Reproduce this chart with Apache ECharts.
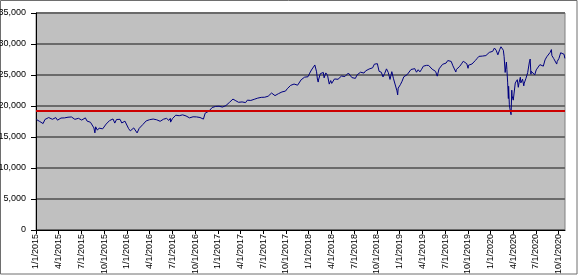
<!DOCTYPE html>
<html>
<head>
<meta charset="utf-8">
<script src="https://cdn.jsdelivr.net/npm/echarts@6/dist/echarts.min.js"></script>
<style>
html,body{margin:0;padding:0;background:#fff;}
#chart{width:580px;height:276px;}
</style>
</head>
<body>
<div id="chart"></div>
<script>
// ---- DATA (Dow Jones closes) ----
const dow2015 = [['01-02',17833],['01-09',17737],['01-16',17511],['01-23',17672],['01-30',17165],['02-06',17824],['02-13',18019],['02-20',18140],['02-27',18133],['03-06',17856],['03-13',17749],['03-20',18128],['03-27',17713],['04-02',17763],['04-10',18057],['04-17',17826],['04-24',18080],['05-01',18024],['05-08',18191],['05-15',18272],['05-22',18232],['05-29',18010],['06-05',17849],['06-12',17898],['06-19',18015],['06-26',17947],['07-02',17730],['07-08',17515],['07-10',17760],['07-17',18086],['07-24',17568],['07-31',17690],['08-07',17373],['08-14',17477],['08-21',16460],['08-25',15666],['08-28',16643],['09-04',16102],['09-11',16433],['09-18',16384],['09-25',16315],['09-28',16001],['10-02',16472],['10-09',17084],['10-16',17215],['10-23',17647],['10-30',17664],['11-06',17910],['11-13',17245],['11-20',17824],['11-27',17798],['12-04',17848],['12-11',17265],['12-18',17128],['12-24',17553],['12-31',17425]];
const dow2016 = [['01-08',16346],['01-15',15988],['01-20',15766],['01-22',16093],['01-29',16466],['02-05',16204],['02-11',15660],['02-12',15973],['02-19',16392],['02-26',16639],['03-04',17006],['03-11',17213],['03-18',17602],['03-24',17516],['04-01',17792],['04-08',17577],['04-15',17897],['04-20',18096],['04-22',18003],['04-29',17773],['05-06',17740],['05-13',17535],['05-20',17500],['05-27',17873],['06-03',17807],['06-08',18005],['06-10',17865],['06-17',17675],['06-23',18011],['06-24',17400],['06-27',17140],['07-01',17949],['07-08',18147],['07-15',18516],['07-22',18571],['07-29',18432],['08-05',18543],['08-12',18576],['08-19',18553],['08-26',18395],['09-02',18492],['09-09',18085],['09-16',18124],['09-23',18261],['09-30',18308],['10-07',18240],['10-14',18138],['10-21',18146],['10-28',18161],['11-04',17888],['11-11',18848],['11-18',18868],['11-25',19152],['12-02',19171],['12-09',19757],['12-16',19843],['12-23',19934],['12-30',19763]];
const dow2017 = [['01-06',19964],['01-13',19886],['01-20',19827],['01-27',20094],['02-03',20071],['02-10',20269],['02-17',20624],['02-24',20822],['03-01',21115],['03-03',21005],['03-10',20903],['03-17',20915],['03-24',20597],['03-31',20663],['04-07',20656],['04-13',20453],['04-21',20548],['04-28',20941],['05-05',21007],['05-12',20897],['05-17',20607],['05-19',20805],['05-26',21080],['06-02',21206],['06-09',21272],['06-16',21384],['06-23',21395],['06-30',21350],['07-07',21414],['07-14',21638],['07-21',21580],['07-28',21830],['08-04',22092],['08-11',21858],['08-18',21675],['08-25',21814],['09-01',21988],['09-08',21798],['09-15',22268],['09-22',22350],['09-29',22405],['10-06',22774],['10-13',22871],['10-20',23329],['10-27',23434],['11-03',23539],['11-10',23422],['11-17',23358],['11-24',23558],['12-01',24231],['12-08',24329],['12-15',24652],['12-22',24754],['12-29',24719]];
const dow2018 = [['01-05',25296],['01-12',25803],['01-19',26072],['01-26',26617],['02-02',25521],['02-05',24346],['02-08',23860],['02-09',24191],['02-16',25220],['02-23',25310],['02-27',25410],['03-02',24538],['03-09',25336],['03-16',24947],['03-23',23533],['03-29',24103],['04-02',23644],['04-06',23933],['04-13',24360],['04-20',24463],['04-27',24311],['05-04',24263],['05-11',24831],['05-18',24715],['05-25',24753],['06-01',24635],['06-08',25317],['06-15',25090],['06-22',24581],['06-29',24271],['07-06',24456],['07-13',25019],['07-20',25058],['07-27',25451],['08-03',25463],['08-10',25313],['08-17',25669],['08-24',25790],['08-31',25965],['09-07',25917],['09-14',26155],['09-21',26744],['09-28',26458],['10-03',26828],['10-05',26447],['10-10',25599],['10-12',25340],['10-19',25444],['10-26',24689],['10-29',24443],['11-02',25271],['11-09',25989],['11-16',25413],['11-23',24286],['11-30',25538],['12-03',25826],['12-07',24389],['12-14',24101],['12-21',22445],['12-24',21792],['12-26',22878],['12-28',23062]];
const dow2019 = [['01-03',22686],['01-04',23433],['01-11',23996],['01-18',24706],['01-25',24737],['02-01',25064],['02-08',25106],['02-15',25883],['02-22',26031],['03-01',26026],['03-08',25450],['03-15',25849],['03-22',25502],['03-29',25929],['04-05',26425],['04-12',26412],['04-18',26559],['04-26',26543],['05-03',26505],['05-10',25942],['05-17',25764],['05-24',25586],['05-31',24815],['06-07',25984],['06-14',26090],['06-21',26719],['06-28',26600],['07-05',26922],['07-12',27332],['07-19',27154],['07-26',27192],['08-02',26485],['08-09',26287],['08-14',25480],['08-16',25886],['08-23',25629],['08-30',26403],['09-06',26797],['09-13',27220],['09-20',26935],['09-27',26820],['10-02',26079],['10-04',26573],['10-11',26817],['10-18',26770],['10-25',26958],['11-01',27347],['11-08',27681],['11-15',28005],['11-22',27876],['11-29',28051],['12-06',28015],['12-13',28135],['12-20',28455],['12-27',28645],['12-31',28538]];
const dow2020 = [['01-03',28635],['01-10',28823],['01-17',29348],['01-24',28990],['01-31',28256],['02-07',29102],['02-12',29551],['02-14',29398],['02-21',28992],['02-24',27961],['02-28',25409],['03-04',27091],['03-06',25865],['03-09',23851],['03-11',23553],['03-12',21200],['03-13',23186],['03-16',20189],['03-18',19899],['03-20',19174],['03-23',18592],['03-26',22552],['03-27',21637],['04-01',20943],['04-03',21053],['04-09',23719],['04-17',24242],['04-21',23019],['04-24',23775],['04-29',24634],['05-01',23724],['05-08',24331],['05-13',23248],['05-15',23685],['05-22',24465],['05-29',25383],['06-05',27111],['06-08',27572],['06-11',25128],['06-12',25606],['06-19',25871],['06-26',25016],['07-02',25827],['07-10',26075],['07-17',26672],['07-24',26470],['07-31',26428],['08-07',27433],['08-14',27931],['08-21',27930],['08-28',28654],['09-02',29100],['09-04',28133],['09-11',27666],['09-18',27657],['09-23',26763],['09-25',27174],['10-02',27683],['10-09',28587],['10-12',28838],['10-16',28606],['10-23',28336],['10-26',27685]];
const referenceLevel = 19250;
const tickLabels = ['1/1/2015','4/1/2015','7/1/2015','10/1/2015','1/1/2016','4/1/2016','7/1/2016','10/1/2016','1/1/2017','4/1/2017','7/1/2017','10/1/2017','1/1/2018','4/1/2018','7/1/2018','10/1/2018','1/1/2019','4/1/2019','7/1/2019','10/1/2019','1/1/2020','4/1/2020','7/1/2020','10/1/2020'];
const yTicks = [0,5000,10000,15000,20000,25000,30000,35000];

// ---- build series (x = months since 1/1/2015) ----
const years = {2015:dow2015,2016:dow2016,2017:dow2017,2018:dow2018,2019:dow2019,2020:dow2020};
function monthPos(year, md){
  const m = parseInt(md.slice(0,2),10), d = parseInt(md.slice(3),10);
  const dim = new Date(year, m, 0).getDate();
  return (year-2015)*12 + (m-1) + (d-1)/dim;
}
const seriesData = [];
Object.keys(years).forEach(y => {
  years[y].forEach(p => seriesData.push([monthPos(+y, p[0]), p[1]]));
});
const xMax = 69.83;

const chart = echarts.init(document.getElementById('chart'), null, {renderer:'canvas'});
const font = 'Liberation Sans, Arial, sans-serif';
chart.setOption({
  animation: false,
  backgroundColor: '#ffffff',
  grid: {left:36, right:15, top:13, bottom:46, show:true, backgroundColor:'#c0c0c0', borderColor:'#808080', borderWidth:1, outerBoundsMode:'none'},
  xAxis: {
    type:'value', min:0, max:xMax, interval:3,
    axisLine:{show:true, onZero:false, lineStyle:{color:'#000', width:1}},
    axisTick:{show:true, length:4, lineStyle:{color:'#000'}},
    splitLine:{show:false},
    axisLabel:{
      rotate:90, margin:4, fontSize:9, fontFamily:font, color:'#000',
      showMaxLabel:false,
      formatter: v => {
        const k = Math.round(v);
        if (Math.abs(v-k) > 1e-6 || k % 3 !== 0) return '';
        return tickLabels[k/3] || '';
      }
    }
  },
  yAxis: {
    type:'value', min:yTicks[0], max:yTicks[yTicks.length-1], interval:5000,
    axisLine:{show:true, lineStyle:{color:'#000', width:1}},
    axisTick:{show:true, length:5, lineStyle:{color:'#000'}},
    splitLine:{show:true, lineStyle:{color:'#6a6a6a', width:2}},
    axisLabel:{margin:10, fontSize:9, fontFamily:font, color:'#000',
      formatter: v => v.toLocaleString('en-US')}
  },
  graphic: [{
    type:'rect', z:-1, silent:true,
    shape:{x:0.5, y:0.5, width:576.5, height:273.5},
    style:{fill:'none', stroke:'#6e6e6e', lineWidth:1}
  }],
  series: [{
    type:'line', data: seriesData, showSymbol:false, symbol:'none',
    lineStyle:{color:'#000080', width:1}, z:3,
    markLine:{
      silent:true, symbol:['none','none'], label:{show:false},
      lineStyle:{color:'#cc0000', width:2, type:'solid'},
      data:[{yAxis: referenceLevel}]
    }
  }]
});
</script>
</body>
</html>
